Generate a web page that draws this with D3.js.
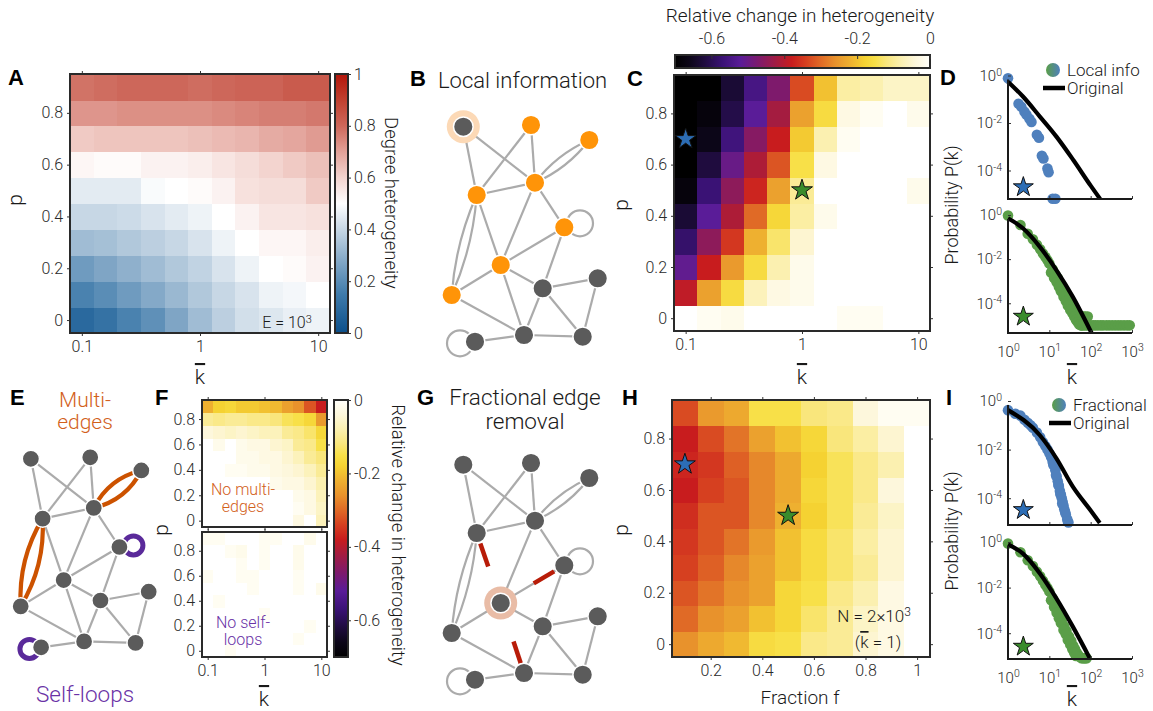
<!DOCTYPE html>
<html>
<head>
<meta charset="utf-8">
<script src="https://cdn.jsdelivr.net/npm/d3@7"></script>
<style>
body { margin: 0; background: #fff; }
text { font-family: Roboto, "Liberation Sans", Arial, sans-serif; font-weight: 300; fill: #1a1a1a; }
.tick text { font-size: 16px; fill: #2a2a2a; }
.deg .tick text { font-size: 15px; }
</style>
</head>
<body>
<svg id="fig" width="1153" height="711"></svg>
<script>
// ---------- data ----------
const kBins = [0.1, 0.158, 0.251, 0.398, 0.631, 1, 1.585, 2.512, 3.981, 6.31, 10];
const pBins = [0, 0.1, 0.2, 0.3, 0.4, 0.5, 0.6, 0.7, 0.8, 0.9];
const fBins = [0.1, 0.2, 0.3, 0.4, 0.5, 0.6, 0.7, 0.8, 0.9, 1.0];
const kTicks = [0.1, 1, 10];
const pTicks = [0, 0.2, 0.4, 0.6, 0.8];
const fTicks = [0.2, 0.4, 0.6, 0.8, 1];
const kDomain = [0.0794, 12.59];
const pDomain = [-0.05, 0.95];
const fDomain = [0.05, 1.05];

// degree heterogeneity (panel A), rows p = 0 .. 0.9
const heteroA = [
  [0.09, 0.12, 0.17, 0.21, 0.27, 0.33, 0.38, 0.42, 0.44, 0.46, 0.47],
  [0.17, 0.20, 0.24, 0.28, 0.32, 0.36, 0.40, 0.43, 0.47, 0.48, 0.50],
  [0.24, 0.27, 0.30, 0.33, 0.36, 0.39, 0.43, 0.47, 0.50, 0.51, 0.53],
  [0.33, 0.34, 0.36, 0.38, 0.40, 0.43, 0.47, 0.50, 0.52, 0.52, 0.54],
  [0.40, 0.40, 0.41, 0.43, 0.45, 0.47, 0.50, 0.53, 0.56, 0.56, 0.57],
  [0.45, 0.45, 0.45, 0.49, 0.50, 0.51, 0.53, 0.57, 0.58, 0.58, 0.62],
  [0.52, 0.51, 0.51, 0.53, 0.53, 0.54, 0.56, 0.58, 0.60, 0.62, 0.64],
  [0.62, 0.63, 0.63, 0.63, 0.63, 0.64, 0.65, 0.66, 0.68, 0.69, 0.71],
  [0.72, 0.72, 0.73, 0.73, 0.73, 0.73, 0.74, 0.75, 0.76, 0.76, 0.77],
  [0.78, 0.79, 0.80, 0.80, 0.80, 0.79, 0.80, 0.81, 0.81, 0.83, 0.83]
];

// relative change, local information (panel C)
const changeC = [
  [0, -0.01, -0.02, 0, 0, 0, 0, -0.01, -0.01, 0, 0],
  [-0.39, -0.24, -0.16, -0.07, -0.03, -0.02, 0, 0, 0, 0, 0],
  [-0.51, -0.38, -0.25, -0.16, -0.08, -0.02, 0, 0, 0, 0, 0],
  [-0.58, -0.45, -0.35, -0.22, -0.13, -0.05, 0, 0, 0, 0, 0],
  [-0.63, -0.52, -0.41, -0.30, -0.17, -0.09, -0.02, 0, 0, 0, 0],
  [-0.68, -0.57, -0.45, -0.37, -0.24, -0.10, 0, 0, 0, 0, -0.02],
  [-0.70, -0.62, -0.50, -0.41, -0.32, -0.15, -0.03, 0, 0, 0, 0],
  [-0.70, -0.66, -0.56, -0.46, -0.38, -0.19, -0.08, -0.01, 0, 0, 0],
  [-0.70, -0.68, -0.61, -0.52, -0.42, -0.24, -0.16, -0.03, -0.01, 0, -0.02],
  [-0.70, -0.70, -0.63, -0.55, -0.47, -0.33, -0.20, -0.09, -0.08, -0.06, -0.06]
];

// relative change without multi-edges / without self-loops (panel F)
const changeMulti = [
  [0, 0, 0, 0, 0, 0, 0, 0, -0.03, 0, -0.07],
  [0, 0, 0, 0, 0, 0, 0, 0, -0.01, -0.03, -0.06],
  [0, 0, 0, 0, 0, 0, 0, 0, -0.02, -0.03, -0.07],
  [0, 0, 0, 0, 0, 0, -0.02, -0.03, -0.03, -0.05, -0.08],
  [0, 0, -0.01, -0.01, -0.02, -0.02, -0.03, -0.04, -0.05, -0.07, -0.10],
  [0, 0, 0, -0.02, -0.02, -0.03, -0.03, -0.05, -0.07, -0.10, -0.12],
  [0, -0.02, 0, -0.02, -0.03, -0.03, -0.05, -0.06, -0.10, -0.11, -0.15],
  [-0.04, -0.05, -0.06, -0.05, -0.06, -0.07, -0.07, -0.10, -0.11, -0.13, -0.17],
  [-0.10, -0.11, -0.10, -0.10, -0.11, -0.11, -0.12, -0.14, -0.15, -0.17, -0.25],
  [-0.22, -0.18, -0.17, -0.19, -0.19, -0.20, -0.21, -0.24, -0.26, -0.32, -0.38]
];
const changeSelf = [
  [0, 0, -0.01, 0, 0, 0, 0, 0, 0, 0, 0],
  [0, 0, 0, 0, 0, 0, 0, 0, -0.01, 0, 0],
  [0, 0, 0, 0, 0, 0, 0, 0, 0, -0.01, 0],
  [0, 0, 0, 0, 0, -0.01, 0, 0, 0, 0, 0],
  [0, -0.01, 0, 0, 0, 0, 0, 0, 0, 0, 0],
  [0, 0, 0, 0, -0.01, 0, 0, 0, -0.01, 0, -0.02],
  [-0.01, 0, 0, -0.01, -0.01, 0, 0, 0, -0.01, 0, 0],
  [0, 0, 0, -0.01, 0, -0.01, 0, 0, -0.02, 0, 0],
  [0, 0, -0.01, -0.02, 0, -0.01, 0, 0, -0.02, 0, 0],
  [-0.01, -0.01, 0, 0, 0, -0.01, -0.01, 0, 0, -0.02, 0]
];

// relative change, fractional edge removal (panel H), columns f = 0.1 .. 1
const changeH = [
  [-0.26, -0.23, -0.21, -0.16, -0.15, -0.11, -0.10, -0.05, -0.03, 0],
  [-0.30, -0.26, -0.24, -0.20, -0.17, -0.13, -0.10, -0.06, -0.03, 0],
  [-0.32, -0.29, -0.26, -0.24, -0.17, -0.15, -0.11, -0.08, -0.03, 0],
  [-0.34, -0.31, -0.27, -0.24, -0.20, -0.16, -0.13, -0.10, -0.05, 0],
  [-0.35, -0.32, -0.29, -0.25, -0.20, -0.16, -0.13, -0.09, -0.05, 0],
  [-0.36, -0.32, -0.32, -0.27, -0.22, -0.18, -0.14, -0.10, -0.06, 0],
  [-0.38, -0.34, -0.32, -0.27, -0.23, -0.17, -0.14, -0.11, -0.04, 0],
  [-0.37, -0.35, -0.31, -0.27, -0.23, -0.18, -0.14, -0.11, -0.08, 0],
  [-0.38, -0.33, -0.29, -0.24, -0.20, -0.17, -0.12, -0.09, -0.05, 0],
  [-0.33, -0.25, -0.23, -0.15, -0.15, -0.12, -0.11, -0.04, -0.01, -0.01]
];

// degree distributions (panels D and I)
const degTicks = [1, 10, 100, 1000];
const probTicks = [1, 1e-2, 1e-4];

const localSparseK = [1, 1.8, 2.1, 2.5, 2.8, 3.3, 3.7, 5.0, 5.6, 6.6, 7.2, 9.0, 9.6, 12, 14];
const localSparseP = [0.76, 0.065, 0.048, 0.03, 0.022, 0.015, 0.011, 3.2e-3, 2.4e-3, 4.2e-4, 3.2e-4, 1.2e-4, 8.5e-5, 6.5e-6, 6.5e-6];
const localOrigTopK = [1, 2.3, 5.9, 15, 38, 100, 170];
const localOrigTopP = [0.55, 0.13, 0.0186, 2.6e-3, 2.75e-4, 2.3e-5, 6.3e-6];

const localDenseK = [1, 2, 3, 4, 5, 6, 7, 8, 9, 10, 12, 14, 16, 18, 20, 23, 26, 30, 34, 38, 42, 46, 50, 55, 60,
  11, 13, 15, 17, 19, 22, 25, 28, 32, 36, 40, 44, 48, 53, 58,
  62, 68, 75, 85,
  65, 72, 80, 90, 100, 115, 130, 150, 175, 200, 240, 280, 330, 390, 460, 540, 640, 760, 880];
const localDenseP = [0.95, 0.355, 0.141, 0.0794, 0.0447, 0.0282, 0.0178, 0.0126, 8.9e-3, 6.3e-3, 3.5e-3, 2.0e-3, 1.4e-3, 7.9e-4, 5.6e-4, 3.2e-4, 2.0e-4, 1.1e-4, 7.1e-5, 4.5e-5, 3.2e-5, 2.2e-5, 1.6e-5, 1.26e-5, 1.0e-5,
  2.5e-3, 1.4e-3, 8.9e-4, 5.6e-4, 3.5e-4, 2.0e-4, 1.26e-4, 7.9e-5, 5.0e-5, 3.5e-5, 2.5e-5, 1.8e-5, 1.4e-5, 1.1e-5, 1.0e-5,
  2.5e-5, 2.5e-5, 2.5e-5, 2.5e-5,
  1e-5, 1e-5, 1e-5, 1e-5, 1e-5, 1e-5, 1e-5, 1e-5, 1e-5, 1e-5, 1e-5, 1e-5, 1e-5, 1e-5, 1e-5, 1e-5, 1e-5, 1e-5, 1e-5];
const localOrigBotK = [1, 2.3, 5.9, 14.8, 37, 105];
const localOrigBotP = [0.71, 0.25, 0.036, 3.2e-3, 1.95e-4, 4.5e-6];

const fracSparseK = [1, 2, 3, 4, 5, 6, 7, 8, 9, 10, 11, 12, 13, 14, 15, 16, 17, 18, 19, 20, 21, 22, 23, 25, 27, 29,
  1.5, 2.5, 3.5, 12.5, 14.5, 16.5, 18.5, 20.5, 24, 28];
const fracSparseP = [0.42, 0.25, 0.126, 0.079, 0.05, 0.032, 0.02, 0.014, 0.01, 7.1e-3, 5e-3, 3.2e-3, 2.2e-3, 1.4e-3, 7.9e-4, 5e-4, 3.2e-4, 2e-4, 1.4e-4, 1e-4, 7e-5, 5e-5, 3.5e-5, 2.2e-5, 1.4e-5, 1e-5,
  0.3, 0.17, 0.1, 2.4e-3, 9e-4, 3.6e-4, 1.5e-4, 6e-5, 2.8e-5, 1.1e-5];
const fracOrigTopK = [1, 5.9, 14.8, 37, 100, 166];
const fracOrigTopP = [0.42, 0.039, 4.4e-3, 3.0e-4, 3.1e-5, 9.5e-6];

const fracDenseK = [1, 2, 3, 4, 5, 6, 7, 8, 9, 10, 12, 14, 16, 18, 20, 23, 26, 30, 34, 38, 42, 46, 50, 55, 60, 65, 70, 75, 80,
  11, 13, 15, 17, 19, 22, 25, 28, 32, 36, 40, 44];
const fracDenseP = [0.85, 0.355, 0.158, 0.089, 0.05, 0.0316, 0.02, 0.0135, 9.5e-3, 6.8e-3, 3.4e-3, 1.6e-3, 8.9e-4, 5.0e-4, 3.5e-4, 2.0e-4, 1.26e-4, 7.1e-5, 4.5e-5, 2.8e-5, 2.0e-5, 1.4e-5, 1.1e-5, 9e-6, 8e-6, 8e-6, 8e-6, 8e-6, 8e-6,
  2.8e-3, 1.4e-3, 7.9e-4, 4.5e-4, 2.8e-4, 1.4e-4, 8.9e-5, 5.0e-5, 3.2e-5, 2.0e-5, 1.4e-5, 1.0e-5];
const fracOrigBotK = [1, 2.3, 5.9, 14.8, 37, 95];
const fracOrigBotP = [0.79, 0.31, 0.042, 3.4e-3, 1.95e-4, 8.1e-6];

// toy network used in B, E, G (layout units)
const nodeX = [11.6, 79.3, 137.6, 83.3, 25, 112.6, 49, 0, 91, 146, 72.3, 131, 23.3];
const nodeY = [1.7, 0, 15, 57.7, 70, 102.3, 140, 170, 163.3, 153.3, 210, 211.7, 216.7];
const edgeList = [[0, 4], [0, 3], [1, 4], [1, 3], [3, 4], [3, 6], [3, 5], [4, 6], [6, 5], [6, 7], [6, 8], [6, 10],
  [5, 8], [8, 9], [8, 10], [8, 11], [9, 11], [10, 11], [7, 10], [10, 12]];
const multiEdges = [[2, 3], [4, 7]];
const loopNodes = [5, 12];
const orangeNodes = [1, 2, 3, 4, 5, 6, 7];
const removedEdges = [[4, 6, 0.15, 0.48], [5, 6, 0.16, 0.48], [6, 10, 0.55, 0.86]];

// colour maps
const chgStops = [-0.70, -0.66, -0.62, -0.57, -0.52, -0.47, -0.42, -0.38, -0.34, -0.30, -0.26, -0.22, -0.18, -0.15, -0.12, -0.08, -0.04, -0.01, 0];
const chgColors = ["#000000", "#0c0618", "#1f0c3e", "#3a1275", "#5a1c98", "#7e1a6c", "#a41c40", "#c81c1e", "#d64020",
  "#e06a26", "#e8922c", "#eeb030", "#f5d232", "#f8e048", "#f9e67c", "#fbf0b0", "#fdf7dc", "#fffdf2", "#ffffff"];
const hetStops = [0, 0.15, 0.3, 0.42, 0.5, 0.6, 0.7, 0.8, 0.9, 1];
const hetColors = ["#0b4f8a", "#3f7bab", "#8fb0cc", "#d2dfea", "#ffffff", "#f3d4cf", "#e2a198", "#cd675a", "#c0402f", "#b3150a"];

const colChange = d3.scaleLinear().domain(chgStops).range(chgColors).clamp(true);
const colHet = d3.scaleLinear().domain(hetStops).range(hetColors).clamp(true);

const svg = d3.select("#fig");
const defs = svg.append("defs");

// ---------- helpers ----------
function txt(x, y, s, size, o = {}) {
  const t = svg.append("text").attr("x", x).attr("y", y).style("font-size", size + "px").text(s);
  if (o.anchor) t.attr("text-anchor", o.anchor);
  if (o.fill) t.style("fill", o.fill);
  if (o.bold) t.style("font-weight", 700).style("font-family", "'Liberation Sans', Arial, sans-serif");
  if (o.rotate) t.attr("transform", `rotate(${o.rotate},${x},${y})`);
  return t;
}

function kbar(x, y) {
  return txt(x, y, "k", 21, {anchor: "middle"}).style("text-decoration", "overline");
}

function sup(t, s, size) {
  t.append("tspan").attr("dy", "-0.5em").style("font-size", size + "px").text(s);
}

function addAxis(g, axis, tx, ty) {
  const a = g.append("g")
    .attr("transform", `translate(${tx},${ty})`)
    .call(axis);
  a.select(".domain").remove();
  a.attr("font-family", null).attr("color", "#333");
  return a;
}

function heatmap(o) {
  const g = svg.append("g");
  const xb = d3.scaleBand().domain(o.cols).range([o.x0, o.x1]);
  const yb = d3.scaleBand().domain(pBins.slice().reverse()).range([o.y0, o.y1]);
  o.values.forEach((row, i) => row.forEach((v, j) => {
    g.append("rect")
      .attr("x", xb(o.cols[j])).attr("y", yb(pBins[i]))
      .attr("width", xb.bandwidth() + 0.6).attr("height", yb.bandwidth() + 0.6)
      .attr("fill", o.color(v))
      .attr("shape-rendering", "crispEdges");
  }));
  const xs = o.xScale.range([o.x0, o.x1]);
  const ys = d3.scaleLinear().domain(pDomain).range([o.y1, o.y0]);
  const fx = d3.format("");
  addAxis(g, d3.axisBottom(xs).tickValues(o.xTicks).tickSize(3).tickPadding(5).tickFormat(o.xLabels ? fx : ""), 0, o.y1);
  addAxis(g, d3.axisTop(xs).tickValues(o.xTicks).tickSize(3).tickFormat(""), 0, o.y0);
  addAxis(g, d3.axisLeft(ys).tickValues(pTicks).tickSize(3).tickPadding(4).tickFormat(fx), o.x0, 0);
  addAxis(g, d3.axisRight(ys).tickValues(pTicks).tickSize(3).tickFormat(""), o.x1, 0);
  g.append("rect")
    .attr("x", o.x0).attr("y", o.y0)
    .attr("width", o.x1 - o.x0).attr("height", o.y1 - o.y0)
    .attr("fill", "none").attr("stroke", "#2a2a2a").attr("stroke-width", 2);
  return {xs, ys};
}

function star(x, y, color, r) {
  svg.append("path")
    .attr("d", d3.symbol().type(d3.symbolStar).size(r * r / 0.8908)())
    .attr("transform", `translate(${x},${y})`)
    .attr("fill", color).attr("stroke", "#111").attr("stroke-width", 1);
}

function gradient(id, vertical, stops, scale, lo, hi) {
  const gr = defs.append("linearGradient").attr("id", id)
    .attr("x1", 0).attr("y1", vertical ? 1 : 0).attr("x2", vertical ? 0 : 1).attr("y2", 0);
  stops.forEach(s => gr.append("stop").attr("offset", (s - lo) / (hi - lo)).attr("stop-color", scale(s)));
}

function supLabels(sel) {
  sel.selectAll(".tick text").each(function(d) {
    const t = d3.select(this).text("10");
    sup(t, Math.round(Math.log10(d)), 10.5);
  });
}

function degPanel(o) {
  const g = svg.append("g").attr("class", "deg");
  const xs = d3.scaleLog().domain([1, 1000]).range([1008, 1132]);
  const ys = d3.scaleLog().domain([o.pMin, 1]).range([o.yBot, o.yTop]);
  const clipId = "clip" + o.id;
  defs.append("clipPath").attr("id", clipId).append("rect")
    .attr("x", 1000).attr("y", o.yTop - 12).attr("width", 140).attr("height", o.yBot - o.yTop + 12);
  o.k.forEach((k, i) => {
    g.append("circle").attr("cx", xs(k)).attr("cy", ys(o.P[i])).attr("r", 5.3).attr("fill", o.color);
  });
  g.append("path")
    .datum(d3.zip(o.origK, o.origP))
    .attr("d", d3.line().x(d => xs(d[0])).y(d => ys(d[1])).curve(d3.curveMonotoneX))
    .attr("fill", "none").attr("stroke", "#000").attr("stroke-width", 4.2)
    .attr("clip-path", `url(#${clipId})`);
  const ya = addAxis(g, d3.axisLeft(ys).tickValues(probTicks).tickSize(-3).tickPadding(6), 1008, 0);
  supLabels(ya);
  const xa = addAxis(g, d3.axisBottom(xs).tickValues(degTicks).tickSize(-3).tickPadding(13).tickFormat(o.xLabels ? null : ""), 0, o.yBot);
  if (o.xLabels) supLabels(xa);
  g.append("line").attr("x1", 1008).attr("x2", 1008).attr("y1", o.yTop + 4).attr("y2", o.yBot)
    .attr("stroke", "#1a1a1a").attr("stroke-width", 2);
  g.append("line").attr("x1", 1007).attr("x2", 1132).attr("y1", o.yBot).attr("y2", o.yBot)
    .attr("stroke", "#1a1a1a").attr("stroke-width", 2);
  star(xs(2.35), ys(o.starP), o.starColor, 10.5);
}

function drawNetwork(sx, sy, o) {
  const g = svg.append("g");
  const X = i => sx(nodeX[i]), Y = i => sy(nodeY[i]);
  const isRemoved = (a, b) => o.stubs && o.stubs.some(s => s[0] === a && s[1] === b);
  edgeList.forEach(([a, b]) => {
    if (isRemoved(a, b)) return;
    g.append("line").attr("x1", X(a)).attr("y1", Y(a)).attr("x2", X(b)).attr("y2", Y(b))
      .attr("stroke", "#ababab").attr("stroke-width", 2.2);
  });
  multiEdges.forEach(([a, b]) => {
    const x1 = X(a), y1 = Y(a), x2 = X(b), y2 = Y(b);
    const L = Math.hypot(x2 - x1, y2 - y1), nx = -(y2 - y1) / L, ny = (x2 - x1) / L;
    [-1, 1].forEach(s => {
      const cx = (x1 + x2) / 2 + s * nx * o.bulge * 2, cy = (y1 + y2) / 2 + s * ny * o.bulge * 2;
      g.append("path").attr("d", `M${x1},${y1}Q${cx},${cy} ${x2},${y2}`)
        .attr("fill", "none").attr("stroke", o.multiColor).attr("stroke-width", o.multiWidth);
    });
  });
  loopNodes.forEach((n, i) => {
    g.append("circle").attr("cx", X(n) + o.loopDX[i]).attr("cy", Y(n) + o.loopDY[i]).attr("r", o.loopR)
      .attr("fill", "none").attr("stroke", o.loopColor).attr("stroke-width", o.loopWidth);
  });
  if (o.stubs) o.stubs.forEach(([a, b, t0, t1]) => {
    g.append("line")
      .attr("x1", X(a) + (X(b) - X(a)) * t0).attr("y1", Y(a) + (Y(b) - Y(a)) * t0)
      .attr("x2", X(a) + (X(b) - X(a)) * t1).attr("y2", Y(a) + (Y(b) - Y(a)) * t1)
      .attr("stroke", "#b81c08").attr("stroke-width", 4.5);
  });
  if (o.ring) {
    g.append("circle").attr("cx", X(o.ring[0])).attr("cy", Y(o.ring[0])).attr("r", 16.5).attr("fill", o.ring[1]);
  }
  nodeX.forEach((_, i) => {
    g.append("circle").attr("cx", X(i)).attr("cy", Y(i)).attr("r", o.nodeR)
      .attr("fill", o.orange && o.orange.includes(i) ? "#ff9408" : "#5b5b5b")
      .attr("stroke", "#fff").attr("stroke-width", 1.5);
  });
}

// ---------- panel A ----------
heatmap({x0: 70, x1: 330, y0: 74, y1: 333, cols: kBins, values: heteroA, color: colHet,
  xScale: d3.scaleLog().domain(kDomain), xTicks: kTicks, xLabels: true});
gradient("gradA", true, hetStops, colHet, 0, 1);
svg.append("rect").attr("x", 335).attr("y", 74).attr("width", 13).attr("height", 259)
  .attr("fill", "url(#gradA)").attr("stroke", "#2a2a2a").attr("stroke-width", 2);
addAxis(svg, d3.axisRight(d3.scaleLinear().domain([0, 1]).range([333, 74]))
  .tickValues([0, 0.2, 0.4, 0.6, 0.8, 1]).tickSize(3).tickPadding(3).tickFormat(d3.format("")), 348, 0);
txt(22, 200, "p", 21, {anchor: "middle", rotate: -90});
kbar(200, 384);
txt(385, 203, "Degree heterogeneity", 18.5, {anchor: "middle", rotate: 90});
sup(txt(287, 328, "E = 10", 16, {anchor: "middle"}), "3", 11);

// ---------- panel C ----------
const C = heatmap({x0: 674, x1: 930, y0: 75, y1: 331, cols: kBins, values: changeC, color: colChange,
  xScale: d3.scaleLog().domain(kDomain), xTicks: kTicks, xLabels: true});
gradient("gradC", false, chgStops, colChange, -0.7, 0);
svg.append("rect").attr("x", 675).attr("y", 55).attr("width", 255).attr("height", 13)
  .attr("fill", "url(#gradC)").attr("stroke", "#2a2a2a").attr("stroke-width", 2);
const cbC = d3.scaleLinear().domain([-0.7, 0]).range([675, 930]);
const chgFmt = d => d === 0 ? "0" : d.toFixed(1);
addAxis(svg, d3.axisTop(cbC).tickValues([-0.6, -0.4, -0.2, 0]).tickSize(-4).tickPadding(11).tickFormat(chgFmt), 0, 55);
txt(800, 22, "Relative change in heterogeneity", 19, {anchor: "middle"});
txt(628, 205, "p", 21, {anchor: "middle", rotate: -90});
kbar(802, 384);
star(C.xs(0.1), C.ys(0.7), "#2c6db5", 11);
star(C.xs(1), C.ys(0.5), "#3a8c2c", 11);

// ---------- panel F ----------
heatmap({x0: 202, x1: 327, y0: 400, y1: 527, cols: kBins, values: changeMulti, color: colChange,
  xScale: d3.scaleLog().domain(kDomain), xTicks: kTicks, xLabels: false});
heatmap({x0: 202, x1: 327, y0: 532, y1: 657, cols: kBins, values: changeSelf, color: colChange,
  xScale: d3.scaleLog().domain(kDomain), xTicks: kTicks, xLabels: true});
gradient("gradF", true, chgStops, colChange, -0.7, 0);
svg.append("rect").attr("x", 334).attr("y", 400).attr("width", 14).attr("height", 257)
  .attr("fill", "url(#gradF)").attr("stroke", "#2a2a2a").attr("stroke-width", 2);
addAxis(svg, d3.axisRight(d3.scaleLinear().domain([-0.7, 0]).range([657, 400]))
  .tickValues([-0.6, -0.4, -0.2, 0]).tickSize(3).tickPadding(3).tickFormat(chgFmt), 348, 0);
txt(392, 535, "Relative change in heterogeneity", 18.5, {anchor: "middle", rotate: 90});
txt(168, 530, "p", 21, {anchor: "middle", rotate: -90});
kbar(264, 706);
txt(243, 495, "No multi-", 16, {anchor: "middle", fill: "#d2601a"});
txt(243, 512, "edges", 16, {anchor: "middle", fill: "#d2601a"});
txt(243, 628, "No self-", 16, {anchor: "middle", fill: "#6a32a6"});
txt(243, 645, "loops", 16, {anchor: "middle", fill: "#6a32a6"});

// ---------- panel H ----------
const H = heatmap({x0: 672, x1: 930, y0: 400, y1: 657, cols: fBins, values: changeH, color: colChange,
  xScale: d3.scaleLinear().domain(fDomain), xTicks: fTicks, xLabels: true});
txt(628, 530, "p", 21, {anchor: "middle", rotate: -90});
txt(800, 704, "Fraction f", 19, {anchor: "middle"});
sup(txt(874, 622, "N = 2×10", 17, {anchor: "middle"}), "3", 12);
const kLab = txt(878, 648, "(", 17, {anchor: "middle"});
kLab.append("tspan").style("text-decoration", "overline").text("k");
kLab.append("tspan").text(" = 1)");
star(H.xs(0.1), H.ys(0.7), "#2c6db5", 11);
star(H.xs(0.5), H.ys(0.5), "#3a8c2c", 11);

// ---------- panels D and I ----------
const blue = "#4f80bd", green = "#5a9e48";
degPanel({id: "d1", yTop: 75.5, yBot: 199, pMin: 6.3e-6, k: localSparseK, P: localSparseP, color: blue,
  origK: localOrigTopK, origP: localOrigTopP, starColor: "#2c6db5", starP: 2e-5, xLabels: false});
degPanel({id: "d2", yTop: 215, yBot: 333, pMin: 4.5e-6, k: localDenseK, P: localDenseP, color: green,
  origK: localOrigBotK, origP: localOrigBotP, starColor: "#3a8c2c", starP: 2.5e-5, xLabels: true});
degPanel({id: "i1", yTop: 401, yBot: 525, pMin: 7.9e-6, k: fracSparseK, P: fracSparseP, color: blue,
  origK: fracOrigTopK, origP: fracOrigTopP, starColor: "#2c6db5", starP: 3.3e-5, xLabels: false});
degPanel({id: "i2", yTop: 542, yBot: 659, pMin: 7.4e-6, k: fracDenseK, P: fracDenseP, color: green,
  origK: fracOrigBotK, origP: fracOrigBotP, starColor: "#3a8c2c", starP: 2.6e-5, xLabels: true});
txt(958, 205, "Probability P(k)", 18, {anchor: "middle", rotate: -90});
txt(958, 531, "Probability P(k)", 18, {anchor: "middle", rotate: -90});
kbar(1072, 384);
kbar(1072, 706);

const lg = defs.append("linearGradient").attr("id", "legDot");
lg.append("stop").attr("offset", 0).attr("stop-color", green);
lg.append("stop").attr("offset", 1).attr("stop-color", blue);
function legend(cx, cy, label) {
  svg.append("circle").attr("cx", cx).attr("cy", cy).attr("r", 7).attr("fill", "url(#legDot)");
  txt(cx + 14, cy + 6, label, 17);
  svg.append("line").attr("x1", cx - 10).attr("x2", cx + 12).attr("y1", cy + 18).attr("y2", cy + 18)
    .attr("stroke", "#000").attr("stroke-width", 4.5);
  txt(cx + 14, cy + 24, "Original", 17);
}
legend(1053, 70, "Local info");
legend(1059, 405, "Fractional");

// ---------- networks B, E, G ----------
const loopB = {loopDX: [15.7, -15], loopDY: [-4, 1.6], loopR: 13, loopColor: "#ababab", loopWidth: 2.2};
drawNetwork(d3.scaleLinear().domain([0, 146]).range([451.7, 597.7]), d3.scaleLinear().domain([0, 216.7]).range([125, 341.7]),
  Object.assign({nodeR: 9.8, orange: orangeNodes, ring: [0, "#fcd9b6"], bulge: 4.5, multiColor: "#ababab", multiWidth: 2.2}, loopB));
drawNetwork(d3.scaleLinear().domain([0, 146]).range([451.7, 597.7]), d3.scaleLinear().domain([0, 216.7]).range([463, 679.7]),
  Object.assign({nodeR: 9.8, ring: [6, "#e9bca6"], bulge: 4.5, multiColor: "#ababab", multiWidth: 2.2, stubs: removedEdges}, loopB));
drawNetwork(d3.scaleLinear().domain([0, 146]).range([20.7, 148.7]), d3.scaleLinear().domain([0, 216.7]).range([457.3, 647.3]),
  {nodeR: 8.6, bulge: 7, multiColor: "#cc5200", multiWidth: 4.2,
   loopDX: [14, -11.7], loopDY: [-1.6, 1.6], loopR: 9.5, loopColor: "#5a2a9a", loopWidth: 5});

txt(438, 88, "Local information", 22);
txt(525, 405, "Fractional edge", 22.5, {anchor: "middle"});
txt(525, 429, "removal", 22.5, {anchor: "middle"});
txt(85, 407, "Multi-", 21, {anchor: "middle", fill: "#d2601a"});
txt(85, 429, "edges", 21, {anchor: "middle", fill: "#d2601a"});
txt(85, 702, "Self-loops", 22.5, {anchor: "middle", fill: "#6a32a6"});

// ---------- panel letters ----------
[["A", 8, 85], ["B", 410, 86], ["C", 627, 86], ["D", 940, 85], ["E", 10, 405], ["F", 155, 405],
 ["G", 417, 405], ["H", 622, 405], ["I", 946, 405]].forEach(([s, x, y]) => txt(x, y, s, 22, {bold: true}).style("fill", "#000"));
</script>
</body>
</html>
